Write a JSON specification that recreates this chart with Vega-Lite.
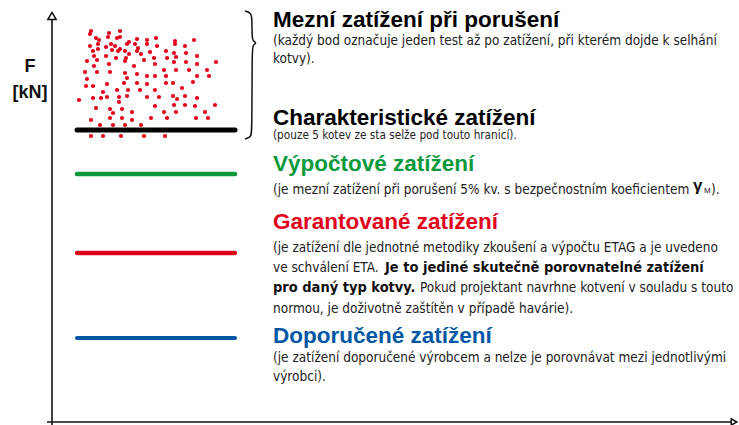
{
  "$schema": "https://vega.github.io/schema/vega-lite/v6.json",
  "width": 739,
  "height": 425,
  "autosize": "none",
  "padding": 0,
  "background": "white",
  "config": {"view": {"stroke": null}},
  "datasets": {
    "tests": [
      {"x":39,"F":391},{"x":38,"F":388},{"x":68,"F":391},{"x":57,"F":389},{"x":56,"F":385},{"x":65,"F":384},{"x":68,"F":385},{"x":44,"F":384},{"x":47,"F":382},{"x":85,"F":383},
      {"x":77,"F":380},{"x":75,"F":378},{"x":104,"F":384},{"x":95,"F":382},{"x":123,"F":381},{"x":123,"F":378},{"x":142,"F":382},{"x":38,"F":376},{"x":46,"F":378},{"x":59,"F":378},
      {"x":63,"F":376},{"x":46,"F":373},{"x":41,"F":371},{"x":54,"F":375},{"x":68,"F":373},{"x":66,"F":371},{"x":60,"F":372},{"x":83,"F":378},{"x":86,"F":374},{"x":95,"F":378},
      {"x":105,"F":376},{"x":85,"F":371},{"x":89,"F":368},{"x":73,"F":371},{"x":77,"F":368},{"x":98,"F":370},{"x":114,"F":371},{"x":122,"F":369},{"x":133,"F":376},{"x":134,"F":369},
      {"x":42,"F":366},{"x":45,"F":362},{"x":35,"F":361},{"x":54,"F":366},{"x":64,"F":364},{"x":74,"F":364},{"x":73,"F":361},{"x":92,"F":362},{"x":102,"F":364},{"x":115,"F":364},
      {"x":124,"F":365},{"x":122,"F":360},{"x":145,"F":366},{"x":164,"F":360},{"x":134,"F":360},{"x":145,"F":358},{"x":42,"F":356},{"x":57,"F":358},{"x":82,"F":356},{"x":103,"F":358},
      {"x":33,"F":350},{"x":45,"F":350},{"x":58,"F":350},{"x":73,"F":349},{"x":75,"F":344},{"x":85,"F":348},{"x":95,"F":346},{"x":103,"F":346},{"x":112,"F":352},{"x":124,"F":352},
      {"x":137,"F":352},{"x":155,"F":352},{"x":157,"F":346},{"x":145,"F":346},{"x":114,"F":346},{"x":35,"F":343},{"x":34,"F":336},{"x":41,"F":336},{"x":55,"F":338},{"x":72,"F":339},
      {"x":85,"F":339},{"x":95,"F":338},{"x":114,"F":339},{"x":121,"F":339},{"x":141,"F":340},{"x":51,"F":330},{"x":65,"F":332},{"x":76,"F":332},{"x":88,"F":332},{"x":103,"F":332},
      {"x":130,"F":334},{"x":27,"F":322},{"x":41,"F":324},{"x":49,"F":324},{"x":55,"F":325},{"x":67,"F":325},{"x":67,"F":320},{"x":75,"F":326},{"x":95,"F":325},{"x":107,"F":325},
      {"x":121,"F":326},{"x":133,"F":326},{"x":145,"F":324},{"x":125,"F":323},{"x":44,"F":314},{"x":58,"F":313},{"x":70,"F":313},{"x":61,"F":309},{"x":80,"F":310},{"x":103,"F":316},
      {"x":122,"F":317},{"x":133,"F":317},{"x":143,"F":316},{"x":163,"F":317},{"x":124,"F":310},{"x":112,"F":310},{"x":153,"F":310},{"x":39,"F":302},{"x":58,"F":304},{"x":70,"F":304},
      {"x":80,"F":302},{"x":99,"F":304},{"x":115,"F":304},{"x":144,"F":304},{"x":156,"F":304},{"x":48,"F":297},{"x":61,"F":297},{"x":73,"F":297},{"x":89,"F":297},
      {"x":39,"F":286},{"x":51,"F":286},{"x":69,"F":286},{"x":92,"F":286},{"x":113,"F":286}
    ],
    "levels": [
      {"level":"Charakteristické","x":25,"x2":183,"F":292},
      {"level":"Výpočtové","x":25,"x2":183,"F":248},
      {"level":"Garantované","x":25,"x2":183,"F":169},
      {"level":"Doporučené","x":25,"x2":183,"F":84}
    ],
    "axes": [
      {"axis":"F","x":0,"x2":0,"F":-3,"F2":402},
      {"axis":"x","x":-5,"x2":680,"F":0,"F2":0}
    ],
    "arrows": [
      {"dir":"up","x":0,"F":406},
      {"dir":"right","x":682,"F":0}
    ],
    "brace": [
      {"i":1,"x":193,"F":411},{"i":2,"x":199,"F":409},{"i":3,"x":200,"F":404},{"i":4,"x":200,"F":385},
      {"i":5,"x":201,"F":381},{"i":6,"x":205,"F":379},{"i":7,"x":201,"F":377},{"i":8,"x":200,"F":373},
      {"i":9,"x":200,"F":290},{"i":10,"x":199,"F":285},{"i":11,"x":193,"F":283}
    ],
    "axisTitle": [
      {"text":"F","x":-22,"F":350},
      {"text":"[kN]","x":-22,"F":324}
    ],
    "headings": [
      {"level":"Mezní","text":"Mezní zatížení při porušení","x":221,"F":395},
      {"level":"Charakteristické","text":"Charakteristické zatížení","x":221,"F":297},
      {"level":"Výpočtové","text":"Výpočtové zatížení","x":221,"F":251},
      {"level":"Garantované","text":"Garantované zatížení","x":221,"F":193},
      {"level":"Doporučené","text":"Doporučené zatížení","x":221,"F":79}
    ],
    "notes": [
      {"text":"(každý bod označuje jeden test až po zatížení, při kterém dojde k selhání","x":221,"F":377},
      {"text":"kotvy).","x":221,"F":359},
      {"text":"(je mezní zatížení při porušení 5% kv. s bezpečnostním koeficientem","x":221,"F":228},
      {"text":").","x":659,"F":228},
      {"text":"(je zatížení dle jednotné metodiky zkoušení a výpočtu ETAG a je uvedeno","x":221,"F":170},
      {"text":"ve schválení ETA.","x":221,"F":150},
      {"text":"Pokud projektant navrhne kotvení v souladu s touto","x":368,"F":130},
      {"text":"normou, je doživotně zaštítěn v případě havárie).","x":221,"F":109},
      {"text":"(je zatížení doporučené výrobcem a nelze je porovnávat mezi jednotlivými","x":221,"F":60},
      {"text":"výrobci).","x":221,"F":41}
    ],
    "notesBold": [
      {"text":"Je to jediné skutečně porovnatelné zatížení","x":333,"F":150},
      {"text":"pro daný typ kotvy.","x":221,"F":130}
    ],
    "notesSmall": [
      {"text":"(pouze 5 kotev ze sta selže pod touto hranicí).","x":221,"F":283}
    ],
    "gamma": [
      {"text":"γ","x":641,"F":231}
    ],
    "gammaSub": [
      {"text":"M","x":652,"F":229}
    ]
  },
  "encoding": {
    "x": {"field":"x","type":"quantitative","scale":{"domain":[-52,687]},"axis":null},
    "y": {"field":"F","type":"quantitative","scale":{"domain":[-3,422]},"axis":null}
  },
  "layer": [
    {
      "data": {"name":"axes"},
      "mark": {"type":"rule","color":"#111111","strokeWidth":1.6},
      "encoding": {"x2":{"field":"x2"},"y2":{"field":"F2"}}
    },
    {
      "data": {"name":"arrows"},
      "mark": {"type":"point","filled":true,"fill":"white","stroke":"#111111","strokeWidth":1.5,"opacity":1},
      "encoding": {
        "shape": {"field":"dir","type":"nominal","scale":{"domain":["up","right"],"range":["triangle-up","triangle-right"]},"legend":null},
        "size": {"field":"dir","type":"nominal","scale":{"domain":["up","right"],"range":[70,40]},"legend":null}
      }
    },
    {
      "data": {"name":"tests"},
      "mark": {"type":"circle","color":"#e2001a","size":18,"opacity":1}
    },
    {
      "data": {"name":"levels"},
      "mark": {"type":"rule","strokeCap":"round"},
      "encoding": {
        "x2": {"field":"x2"},
        "color": {"field":"level","type":"nominal","scale":{"domain":["Charakteristické","Výpočtové","Garantované","Doporučené"],"range":["#000000","#0a9a3c","#e2001a","#0057a4"]},"legend":null},
        "strokeWidth": {"field":"level","type":"nominal","scale":{"domain":["Charakteristické","Výpočtové","Garantované","Doporučené"],"range":[5,4,4,4.5]},"legend":null}
      }
    },
    {
      "data": {"name":"brace"},
      "mark": {"type":"line","color":"#111111","strokeWidth":1.5,"interpolate":"basis"},
      "encoding": {"order":{"field":"i","type":"quantitative"}}
    },
    {
      "data": {"name":"axisTitle"},
      "mark": {"type":"text","font":"Liberation Sans","fontWeight":"bold","fontSize":18,"align":"center","baseline":"alphabetic","color":"#111111"},
      "encoding": {"text":{"field":"text"}}
    },
    {
      "data": {"name":"headings"},
      "mark": {"type":"text","font":"Liberation Sans","fontWeight":"bold","fontSize":22.5,"align":"left","baseline":"alphabetic"},
      "encoding": {
        "text":{"field":"text"},
        "color": {"field":"level","type":"nominal","scale":{"domain":["Mezní","Charakteristické","Výpočtové","Garantované","Doporučené"],"range":["#111111","#111111","#0a9a3c","#e2001a","#0057a4"]},"legend":null}
      }
    },
    {
      "data": {"name":"notes"},
      "mark": {"type":"text","font":"DejaVu Sans Condensed, sans-serif","fontSize":13.5,"align":"left","baseline":"alphabetic","color":"#222222"},
      "encoding": {"text":{"field":"text"}}
    },
    {
      "data": {"name":"notesBold"},
      "mark": {"type":"text","font":"DejaVu Sans Condensed, sans-serif","fontWeight":"bold","fontSize":14.5,"align":"left","baseline":"alphabetic","color":"#111111"},
      "encoding": {"text":{"field":"text"}}
    },
    {
      "data": {"name":"notesSmall"},
      "mark": {"type":"text","font":"DejaVu Sans Condensed, sans-serif","fontSize":11.7,"align":"left","baseline":"alphabetic","color":"#222222"},
      "encoding": {"text":{"field":"text"}}
    },
    {
      "data": {"name":"gamma"},
      "mark": {"type":"text","font":"Liberation Sans","fontWeight":"bold","fontSize":17,"align":"left","baseline":"alphabetic","color":"#111111"},
      "encoding": {"text":{"field":"text"}}
    },
    {
      "data": {"name":"gammaSub"},
      "mark": {"type":"text","font":"Liberation Sans","fontSize":8,"align":"left","baseline":"alphabetic","color":"#111111"},
      "encoding": {"text":{"field":"text"}}
    }
  ]
}
